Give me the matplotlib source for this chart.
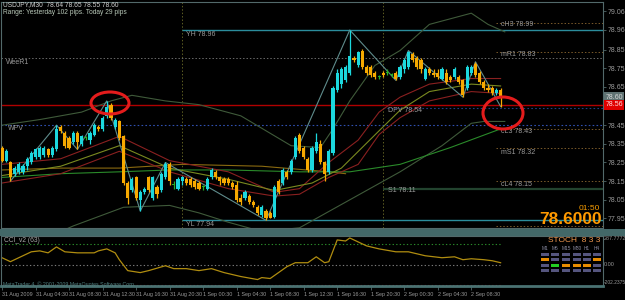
import matplotlib
matplotlib.use("Agg")
import matplotlib.pyplot as plt
from matplotlib.patches import Ellipse, Rectangle
import numpy as np

plt.rcParams["font.family"] = ["Liberation Sans Narrow", "Liberation Sans", "DejaVu Sans"]

W, H = 625, 300

# ---------------- data ----------------
opens = [78.33, 78.26, 78.25, 78.19, 78.20, 78.20, 78.23, 78.25, 78.28, 78.28,
         78.29, 78.32, 78.29, 78.32, 78.44, 78.41, 78.38, 78.36, 78.41, 78.35,
         78.38, 78.37, 78.40, 78.44, 78.43, 78.50, 78.56, 78.44, 78.47, 78.39,
         78.14, 78.10, 78.17, 78.05, 78.09, 78.17, 78.06, 78.12, 78.10, 78.17,
         78.24, 78.13, 78.11, 78.15, 78.16, 78.16, 78.15, 78.14, 78.12, 78.11,
         78.17, 78.20, 78.17, 78.16, 78.16, 78.14, 78.13, 78.06, 78.06, 78.07,
         78.04, 78.01, 77.97, 77.99, 77.98, 77.96, 78.15, 78.14, 78.20, 78.20,
         78.28, 78.40, 78.33, 78.27, 78.21, 78.31, 78.35, 78.25, 78.20, 78.30,
         78.64, 78.67, 78.69, 78.73, 78.81, 78.77, 78.85, 78.76, 78.76, 78.73,
         78.71, 78.73, 78.73, 78.72, 78.73, 78.71, 78.75, 78.76, 78.83, 78.81,
         78.80, 78.70, 78.75, 78.73, 78.73, 78.70, 78.73, 78.71, 78.71, 78.71,
         78.69, 78.65, 78.73, 78.78, 78.73, 78.68, 78.65, 78.65, 78.62, 78.64]
highs = [78.34, 78.32, 78.26, 78.23, 78.25, 78.24, 78.28, 78.31, 78.33, 78.34,
         78.34, 78.33, 78.34, 78.45, 78.45, 78.42, 78.39, 78.42, 78.42, 78.40,
         78.39, 78.42, 78.46, 78.45, 78.50, 78.58, 78.57, 78.49, 78.48, 78.40,
         78.15, 78.17, 78.18, 78.10, 78.12, 78.18, 78.18, 78.13, 78.20, 78.25,
         78.25, 78.15, 78.17, 78.18, 78.17, 78.17, 78.16, 78.15, 78.13, 78.17,
         78.22, 78.21, 78.18, 78.17, 78.17, 78.15, 78.15, 78.08, 78.10, 78.08,
         78.05, 78.02, 78.02, 78.00, 77.99, 78.13, 78.16, 78.22, 78.21, 78.27,
         78.39, 78.41, 78.34, 78.28, 78.34, 78.41, 78.37, 78.26, 78.32, 78.66,
         78.75, 78.76, 78.77, 78.96, 78.82, 78.85, 78.86, 78.77, 78.77, 78.74,
         78.72, 78.74, 78.75, 78.73, 78.74, 78.77, 78.81, 78.85, 78.84, 78.82,
         78.81, 78.76, 78.76, 78.75, 78.75, 78.76, 78.75, 78.72, 78.76, 78.72,
         78.70, 78.77, 78.77, 78.79, 78.74, 78.69, 78.67, 78.66, 78.65, 78.65]
lows = [78.25, 78.25, 78.15, 78.18, 78.19, 78.19, 78.21, 78.24, 78.27, 78.27,
        78.28, 78.28, 78.28, 78.31, 78.41, 78.33, 78.32, 78.35, 78.32, 78.34,
        78.37, 78.35, 78.39, 78.42, 78.42, 78.49, 78.48, 78.43, 78.37, 78.13,
        78.03, 78.09, 78.05, 77.99, 78.08, 78.09, 78.05, 78.06, 78.09, 78.16,
        78.13, 78.11, 78.10, 78.13, 78.13, 78.12, 78.11, 78.10, 78.10, 78.10,
        78.16, 78.16, 78.13, 78.13, 78.13, 78.11, 78.04, 78.02, 78.05, 78.03,
        78.01, 77.97, 77.96, 77.94, 77.95, 77.95, 78.08, 78.13, 78.16, 78.19,
        78.27, 78.30, 78.27, 78.20, 78.20, 78.30, 78.24, 78.15, 78.19, 78.29,
        78.63, 78.65, 78.68, 78.72, 78.79, 78.76, 78.75, 78.72, 78.71, 78.70,
        78.70, 78.71, 78.72, 78.71, 78.69, 78.70, 78.73, 78.75, 78.79, 78.75,
        78.73, 78.69, 78.72, 78.71, 78.70, 78.69, 78.67, 78.68, 78.70, 78.67,
        78.60, 78.64, 78.72, 78.71, 78.67, 78.64, 78.63, 78.61, 78.61, 78.55]
closes = [78.26, 78.31, 78.17, 78.22, 78.24, 78.23, 78.27, 78.30, 78.32, 78.33,
          78.33, 78.29, 78.33, 78.43, 78.42, 78.34, 78.33, 78.41, 78.36, 78.39,
          78.38, 78.41, 78.45, 78.43, 78.49, 78.55, 78.49, 78.48, 78.38, 78.14,
          78.06, 78.16, 78.06, 78.09, 78.11, 78.10, 78.17, 78.08, 78.19, 78.24,
          78.15, 78.13, 78.16, 78.17, 78.14, 78.13, 78.12, 78.11, 78.12, 78.16,
          78.21, 78.17, 78.15, 78.14, 78.14, 78.12, 78.05, 78.04, 78.09, 78.04,
          78.02, 77.98, 78.01, 77.95, 77.95, 78.12, 78.09, 78.21, 78.17, 78.26,
          78.38, 78.31, 78.28, 78.21, 78.33, 78.36, 78.25, 78.19, 78.31, 78.65,
          78.73, 78.75, 78.76, 78.82, 78.80, 78.84, 78.76, 78.73, 78.72, 78.71,
          78.71, 78.72, 78.73, 78.72, 78.70, 78.76, 78.80, 78.84, 78.80, 78.76,
          78.75, 78.75, 78.73, 78.72, 78.71, 78.75, 78.68, 78.69, 78.75, 78.68,
          78.61, 78.76, 78.76, 78.72, 78.68, 78.65, 78.64, 78.62, 78.64, 78.60]

time_tick_bars = [0, 8, 16, 24, 32, 40, 48, 56, 64, 72, 80, 88, 96, 104, 112]
time_tick_labels = ["31 Aug 2009", "31 Aug 04:30", "31 Aug 08:30", "31 Aug 12:30",
                    "31 Aug 16:30", "31 Aug 20:30", "1 Sep 00:30", "1 Sep 04:30",
                    "1 Sep 08:30", "1 Sep 12:30", "1 Sep 16:30", "1 Sep 20:30",
                    "2 Sep 00:30", "2 Sep 04:30", "2 Sep 08:30"]

price_ticks = [79.06, 78.96, 78.855, 78.755, 78.655, 78.45, 78.35, 78.25, 78.15, 78.05, 77.95]
price_tick_labels = ["79.06", "78.96", "78.85", "78.75", "78.65", "78.45", "78.35",
                     "78.25", "78.15", "78.05", "77.95"]

# indicator lines (bar index, price)
bb_up_x = [0, 9, 19, 26, 31, 39, 47, 57, 63, 69, 76, 79, 83, 89, 95, 102, 112, 116, 120]
bb_up_y = [78.45, 78.48, 78.52, 78.58, 78.61, 78.58, 78.56, 78.50, 78.42, 78.34, 78.33,
           78.43, 78.58, 78.77, 78.85, 78.99, 79.05, 78.99, 78.95]
bb_lo_x = [9, 17, 29, 40, 47, 54, 62, 71, 83, 95, 105, 112, 115, 120]
bb_lo_y = [77.83, 77.91, 78.01, 78.02, 77.98, 77.93, 77.88, 77.90, 78.05, 78.20, 78.34,
           78.46, 78.47, 78.47]
env_up_x = [0, 14, 28, 40, 54, 65, 71, 78, 85, 90, 95, 102, 112, 119]
env_up_y = [78.24, 78.27, 78.39, 78.26, 78.20, 78.09, 78.11, 78.25, 78.37, 78.52, 78.60,
            78.67, 78.70, 78.70]
env_mid_x = [0, 14, 28, 40, 54, 65, 74, 81, 90, 95, 102, 112, 119]
env_mid_y = [78.18, 78.23, 78.34, 78.22, 78.16, 78.10, 78.14, 78.22, 78.42, 78.53, 78.63,
             78.67, 78.66]
env_lo_x = [0, 14, 28, 40, 54, 65, 71, 78, 85, 90, 95, 102, 112, 119]
env_lo_y = [78.14, 78.19, 78.31, 78.20, 78.11, 78.07, 78.08, 78.17, 78.24, 78.40, 78.49,
            78.58, 78.63, 78.62]
ma_slow_x = [0, 14, 28, 43, 62, 78, 82]
ma_slow_y = [78.21, 78.22, 78.22, 78.24, 78.23, 78.20, 78.19]
ma_green_x = [0, 14, 28, 40, 54, 71, 83, 95, 107, 119]
ma_green_y = [78.17, 78.19, 78.20, 78.21, 78.21, 78.20, 78.20, 78.24, 78.33, 78.43]
zz_x = [2, 13, 18, 25, 33, 39, 63, 83, 94, 97, 110, 113, 119]
zz_y = [78.15, 78.45, 78.32, 78.58, 77.99, 78.25, 77.94, 78.96, 78.69, 78.85, 78.60, 78.79, 78.55]

cci_x = [0, 2, 7, 9, 11, 13, 15, 18, 22, 23, 25, 27, 28, 30, 33, 35, 39, 41, 44, 47, 50,
         53, 57, 61, 62, 64, 66, 68, 70, 73, 75, 77, 78, 80, 82, 83, 85, 87, 90, 94, 97,
         101, 105, 108, 110, 112, 115, 117, 119]
cci_y = [67, 29, 124, 133, 114, 171, 124, 114, 114, 133, 152, 114, 48, -57, -76, -57, -10,
         -38, -38, -57, -38, -76, -114, -143, -124, -133, -76, -19, 19, 19, 76, 19, 29, 238,
         228, 257, 219, 181, 152, 124, 124, 86, 67, 76, 48, 57, 48, 38, 19]
cci_levels = [200, 0, -200]
cci_axis_labels = ["287.7772", "0.00", "-202.2375"]

yh, yl = 78.96, 77.94
red_level = 78.56
wpv, dpv = 78.45, 78.54
wr1 = 78.81
s1 = 78.11
right_pivots = [79.00, 78.84, 78.43, 78.33, 78.15, 77.91]
right_pivot_labels = ["cH3 78.99", "mR1 78.83", "cL3 78.43", "mS1 78.32", "cL4 78.15", ""]
day_sep_bars = [43, 91]

stoch_tf = ["M1", "M5", "M15", "M30", "H1", "H4"]
stoch_rows = ["ssssss", "ossssо".replace("о", "o"), "sgooos", "ssssss"]

# ---------------- layout helpers ----------------
def fx(x):
    return x / W

def fy(y):
    return 1 - y / H

BG = "#000000"
BULL = "#1cd8de"
BEAR = "#f7a900"
DOJI = "#25b025"
AXC = "#52696a"
TXT = "#9a9a9a"

fig = plt.figure(figsize=(W / 100, H / 100), dpi=100, facecolor=BG)

px_per_bar = 4.19
x_left = (1 - 2) / px_per_bar
x_right = (603 - 2) / px_per_bar

ax = fig.add_axes([fx(1), fy(228), fx(602), (228 - 2) / H])
ax.set_facecolor(BG)
ax.set_xlim(x_left, x_right)
ax.set_ylim(77.899, 79.110)
for s in ax.spines.values():
    s.set_color(AXC)
    s.set_linewidth(0.8)

o = np.array(opens); h = np.array(highs); l = np.array(lows); c = np.array(closes)
idx = np.arange(len(o))
cols = np.where(c > o, BULL, np.where(c < o, BEAR, DOJI))

# day separators
for b in day_sep_bars:
    ax.axvline(b, color="#5e5e22", lw=0.7, ls=(0, (1.5, 2)), zorder=1)

# horizontal levels
ax.axhline(wr1, color="#6a6a6a", lw=0.7, ls=(0, (1.5, 2)), zorder=1)
ax.axhline(wpv, color="#3050b0", lw=0.8, ls=(0, (1.5, 2)), zorder=1)
ax.hlines(dpv, day_sep_bars[1], x_right, color="#243c80", lw=0.8, ls=(0, (1.5, 2)), zorder=1)
ax.axhline(red_level, color="#b00000", lw=1.0, zorder=2)
ax.hlines([yh, yl], day_sep_bars[0], x_right, color="#2b8d9c", lw=1.0, zorder=2)
ax.hlines(s1, day_sep_bars[1], x_right, color="#22432e", lw=1.6, zorder=1)
ax.hlines(right_pivots, 118, x_right, color="#7a5a2a", lw=0.7, ls=(0, (1.5, 2)), zorder=1)

# indicator lines
ax.plot(bb_up_x, bb_up_y, color="#3f5a3a", lw=0.8, zorder=2)
ax.plot(bb_lo_x, bb_lo_y, color="#3f5a3a", lw=0.8, zorder=2)
ax.plot(ma_slow_x, ma_slow_y, color="#8a6a10", lw=0.8, zorder=2)
ax.plot(ma_green_x, ma_green_y, color="#2a8a2a", lw=0.8, zorder=2)
ax.plot(env_up_x, env_up_y, color="#8a2020", lw=0.8, zorder=2)
ax.plot(env_mid_x, env_mid_y, color="#7a8a20", lw=0.8, zorder=2)
ax.plot(env_lo_x, env_lo_y, color="#8a2020", lw=0.8, zorder=2)
ax.plot(zz_x, zz_y, color="#5f8c8c", lw=0.8, zorder=3)

# candles
ax.vlines(idx, l, h, colors=cols, lw=0.9, zorder=4)
body_lo = np.minimum(o, c)
body_h = np.maximum(np.abs(c - o), 0.004)
ax.bar(idx, body_h, bottom=body_lo, width=0.75, color=cols, linewidth=0, zorder=5)

ax.set_xticks([])
ax.yaxis.tick_right()
ax.set_yticks(price_ticks)
ax.set_yticklabels(price_tick_labels)
ax.tick_params(axis="y", colors=AXC, labelcolor=TXT, labelsize=5.0, length=2, width=0.6, pad=1.5)

# price boxes on axis
for val, bgc, tc in [(closes[-1], "#5f7272", "#d8d8d8"), (red_level, "#e00000", "#ffe0e0")]:
    ax.text(1.004, val, f"{val:.2f}", transform=ax.get_yaxis_transform(), fontsize=5.0,
            color=tc, va="center", ha="left",
            bbox=dict(boxstyle="square,pad=0.2", fc=bgc, ec="none"), zorder=10, clip_on=False)

# texts
def t(x, y, s, color=TXT, size=5.0, **kw):
    fig.text(fx(x), fy(y), s, color=color, fontsize=size, va="center", ha=kw.pop("ha", "left"), **kw)

t(3, 5, "USDJPY,M30  78.64 78.65 78.55 78.60", color="#d0d0d0", size=4.8)
t(3, 12, "Range: Yesterday 102 pips. Today 29 pips", color="#b8c8b8", size=4.8)
t(6, 62, "WeeR1")
t(8, 128, "WPV")
t(186, 34, "YH 78.96")
t(186, 225, "YL 77.94")
t(388, 111, "DPV 78.54")
t(388, 191, "S1 78.11")
for yy, lab in zip([25, 55, 132, 152, 185], right_pivot_labels[:5]):
    t(501, yy, lab)

t(600, 208, "01:50", color="#f59a00", size=6, ha="right",
  family=["Liberation Sans", "DejaVu Sans"])
t(602, 220, "78.6000", color="#ff9900", size=12.5, ha="right", fontweight="bold",
  family=["Liberation Sans", "DejaVu Sans"])

# red circles
for (cx, cy, ew, eh) in [(110, 103, 38, 22), (503, 113, 40, 32)]:
    e = Ellipse((cx / 100, (H - cy) / 100), ew / 100, eh / 100, transform=fig.dpi_scale_trans,
                fill=False, ec="#e41c1c", lw=2.2, zorder=20)
    fig.patches.append(e)

# separator band
fig.patches.append(Rectangle((fx(0), fy(236)), 1, 7 / H, transform=fig.transFigure,
                             fc="#436868", ec="none"))

# ---------------- CCI panel ----------------
ax2 = fig.add_axes([fx(1), fy(286), fx(602), 50 / H])
ax2.set_facecolor(BG)
ax2.set_xlim(x_left, x_right)
ax2.set_ylim(-205, 276)
for s in ax2.spines.values():
    s.set_color(AXC)
    s.set_linewidth(0.8)
ax2.spines["bottom"].set_color("#4a7272")
ax2.spines["bottom"].set_linewidth(2.0)
lvl_cols = ["#2a8a2a", "#7a7a7a", "#a02020"]
for lv, lc in zip(cci_levels, lvl_cols):
    ax2.hlines(lv, x_left, 119, color=lc, lw=0.8, ls=(0, (1.2, 2)))
ax2.plot(cci_x, cci_y, color="#b08d10", lw=0.9)
ax2.set_yticks([])
ax2.set_xticks(time_tick_bars)
ax2.set_xticklabels(time_tick_labels)
for lab in ax2.get_xticklabels():
    lab.set_ha("left")
ax2.tick_params(axis="x", colors=AXC, labelcolor=TXT, labelsize=3.85, length=3, width=0.6, pad=1.5)

t(4, 241, "CCI_v2 (63)", color="#a8a8a8", size=4.8)
t(3, 284, "MetaTrader 4, \u00a9 2001-2009 MetaQuotes Software Corp.", color="#4f8080", size=3.8)
for yy, lab, sz in zip([238, 264, 283], cci_axis_labels, [3.9, 3.9, 3.5]):
    t(604, yy, lab, size=sz)

# STOCH block
t(548, 241, "STOCH  8 3 3", color="#f09850", size=6,
  family=["Liberation Sans", "DejaVu Sans"])
col_x = [545, 555, 566, 577, 587, 597]
row_y = [254, 259, 265, 270]
for cxp, tf in zip(col_x, stoch_tf):
    t(cxp, 248, tf, color="#8a8aa0", size=3.4, ha="center")
cmap = {"s": "#55557e", "o": "#e88c00", "g": "#22d022"}
for ry, row in zip(row_y, stoch_rows):
    for cxp, ch in zip(col_x, row):
        fig.patches.append(Rectangle((fx(cxp - 4), fy(ry + 1.5)), 8 / W, 3 / H,
                                     transform=fig.transFigure, fc=cmap[ch], ec="none"))

fig.savefig("out.png", dpi=100, facecolor=BG)
